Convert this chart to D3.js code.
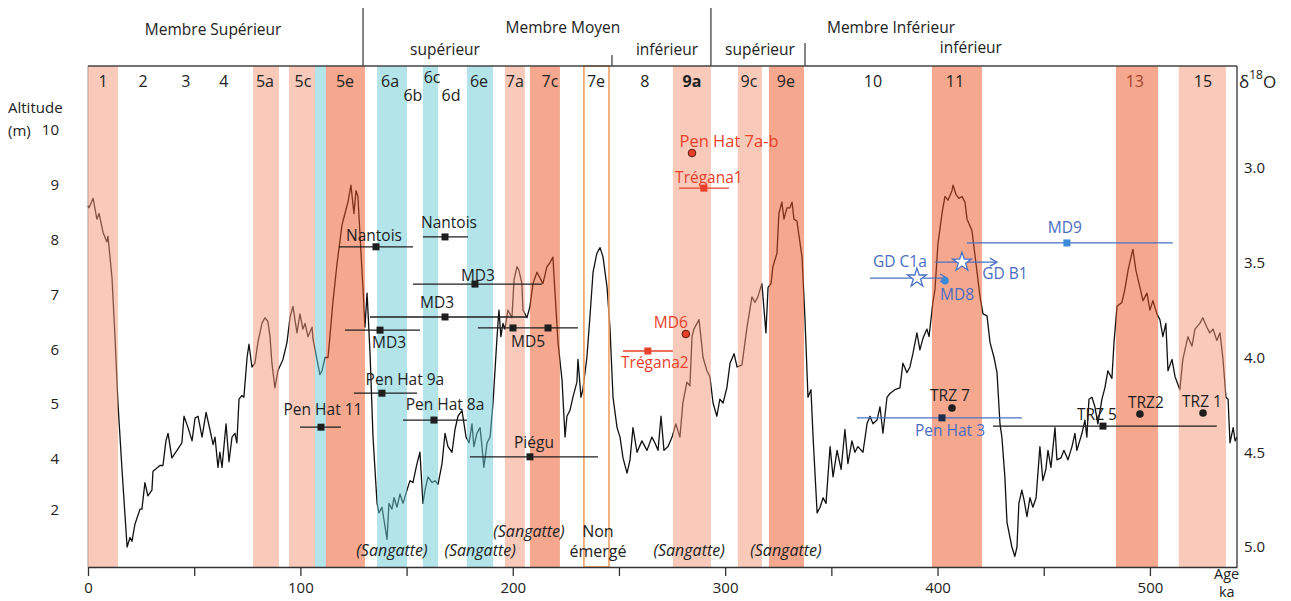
<!DOCTYPE html>
<html>
<head>
<meta charset="utf-8">
<script src="https://cdn.jsdelivr.net/npm/d3@7"></script>
<style>
  body { margin: 0; background: #fff; }
  svg { display: block; font-family: "Open Sans", sans-serif; }
</style>
</head>
<body>
<svg width="1291" height="601"></svg>
<script>

// courbe isotopique (age ka, delta 18O)
const curve_age = [0,0.5,2.4,4.2,5.2,7.1,8.9,9.4,11.3,12.7,14.1,16.0,18.4,19.8,20.7,22.1,24.5,25.4,26.8,28.2,30.1,30.6,33.9,35.3,36.7,37.7,39.5,41.9,44.2,45.2,47.1,49.0,50.4,51.8,53.7,55.6,57.4,58.9,59.8,61.2,62.1,63.1,65.0,66.4,67.8,69.2,70.1,71.1,72.5,73.4,74.9,75.8,77.2,78.6,80.0,81.9,83.3,84.7,85.7,86.6,88.0,89.4,91.8,93.7,95.1,96.5,98.4,99.8,101.2,102.2,103.6,105.5,105.9,107.8,109.2,110.2,111.6,113.0,113.9,115.3,117.2,119.6,121.0,122.4,123.8,125.2,126.2,127.1,128.1,129.5,130.4,131.4,131.8,132.8,134.2,136.1,137.0,138.4,139.4,140.8,141.7,143.1,144.1,145.5,146.9,148.3,150.2,151.6,153.0,154.9,156.3,157.7,158.7,160.1,162.0,163.4,164.8,166.7,168.1,169.5,171.4,172.8,174.2,176.1,178.0,179.4,180.8,181.7,183.1,184.6,185.5,186.4,187.9,189.3,190.7,192.6,193.5,194.4,195.4,196.3,197.7,199.6,200.6,202.0,202.9,204.3,204.8,206.7,208.1,209.5,211.4,212.8,214.2,216.1,217.5,218.9,219.9,221.3,223.2,224.6,225.5,226.9,228.3,230.2,230.7,232.1,233.0,234.9,236.3,237.8,239.6,241.1,242.5,244.4,245.8,247.2,249.1,250.5,251.9,253.8,255.2,256.6,258.5,260.8,263.2,265.5,266.9,268.4,269.8,271.2,273.1,275.0,276.8,278.7,280.1,282.0,283.4,284.4,285.3,287.7,289.6,291.4,292.8,294.3,296.1,297.5,299.0,300.8,302.3,304.2,305.6,307.9,310.3,312.6,314.0,315.4,317.3,319.2,320.2,321.6,322.5,324.4,325.3,326.7,327.7,329.1,330.5,331.5,332.4,333.8,334.8,336.2,337.6,339.0,340.4,341.4,343.3,344.7,346.1,347.5,349.4,350.8,352.7,354.6,356.4,357.8,359.7,361.1,362.5,364.9,366.8,368.2,369.6,371.5,372.9,374.3,376.2,377.6,379.9,382.3,383.7,385.6,387.0,388.4,390.3,391.7,393.1,395.0,396.0,397.8,398.8,400.2,402.1,403.5,404.9,406.8,407.3,408.7,410.1,411.5,412.9,413.9,416.2,418.5,420.0,421.4,423.3,424.7,426.6,428.0,429.4,430.3,431.7,432.7,435.0,436.4,437.4,438.3,439.7,440.7,442.1,443.5,444.9,446.4,448.2,449.6,451.0,452.0,453.4,455.3,456.2,458.1,459.5,461.4,463.3,464.7,465.6,468.0,469.4,470.3,471.3,472.7,474.1,475.5,477.4,478.8,480.2,482.1,483.1,484.5,486.8,488.2,489.7,491.5,492.0,493.4,495.3,496.7,498.6,500.0,501.4,503.3,504.7,506.1,507.5,508.5,510.4,511.8,514.1,515.5,517.9,519.8,521.2,523.5,524.9,526.8,528.2,529.7,531.5,533.0,534.4,535.8,536.8,537.7,539.2,540.1,541.0];
const curve_d18o = [3.20,3.21,3.16,3.27,3.24,3.34,3.39,3.36,3.58,3.89,4.24,4.59,5.00,4.95,4.97,4.88,4.80,4.80,4.66,4.73,4.70,4.60,4.57,4.57,4.44,4.40,4.53,4.49,4.45,4.31,4.37,4.44,4.32,4.31,4.42,4.29,4.38,4.46,4.42,4.58,4.50,4.58,4.35,4.55,4.42,4.40,4.45,4.22,4.20,4.21,4.00,3.93,4.05,4.03,3.92,3.82,3.79,3.81,3.89,4.03,4.16,4.07,4.01,3.92,3.79,3.73,3.87,3.77,3.85,3.82,3.89,3.84,3.90,4.01,4.09,4.07,4.00,4.00,3.89,3.71,3.51,3.30,3.24,3.18,3.09,3.24,3.12,3.15,3.36,3.64,3.84,3.66,3.75,3.98,4.42,4.77,4.82,4.79,4.86,4.96,4.77,4.80,4.74,4.79,4.72,4.77,4.70,4.65,4.66,4.56,4.50,4.77,4.70,4.63,4.66,4.65,4.67,4.56,4.40,4.47,4.50,4.38,4.31,4.28,4.42,4.45,4.35,4.47,4.40,4.37,4.47,4.58,4.45,4.42,4.24,3.89,3.75,3.89,3.82,3.85,3.75,3.79,3.59,3.52,3.54,3.61,3.75,3.79,3.73,3.61,3.55,3.58,3.61,3.52,3.50,3.47,3.66,3.92,4.12,4.42,4.31,4.28,4.21,4.13,4.01,4.21,4.17,4.00,3.79,3.55,3.45,3.42,3.47,3.63,3.85,4.21,4.37,4.42,4.53,4.61,4.54,4.37,4.50,4.44,4.49,4.42,4.45,4.49,4.31,4.49,4.47,4.42,4.35,4.42,4.24,4.13,4.15,3.89,3.85,3.80,4.00,4.07,4.10,4.24,4.31,4.22,4.24,4.16,4.03,3.98,4.05,4.04,3.84,3.68,3.71,3.68,3.61,3.87,3.63,3.61,3.52,3.45,3.24,3.18,3.27,3.21,3.21,3.18,3.27,3.28,3.36,3.47,3.80,4.21,4.17,4.42,4.82,4.79,4.74,4.77,4.47,4.63,4.49,4.59,4.38,4.56,4.44,4.50,4.47,4.50,4.35,4.31,4.35,4.33,4.26,4.40,4.21,4.19,4.17,4.16,4.03,4.08,4.05,3.98,3.87,3.96,3.90,3.85,3.89,3.71,3.64,3.40,3.24,3.15,3.17,3.12,3.09,3.14,3.16,3.15,3.18,3.27,3.33,3.54,3.68,3.77,3.78,3.92,4.00,4.08,4.35,4.42,4.63,4.87,5.00,5.05,5.00,4.77,4.70,4.75,4.84,4.74,4.79,4.74,4.47,4.65,4.59,4.49,4.58,4.37,4.54,4.53,4.49,4.54,4.47,4.40,4.49,4.40,4.33,4.42,4.22,4.21,4.26,4.35,4.22,4.16,4.07,4.11,3.92,3.73,3.71,3.64,3.54,3.45,3.43,3.54,3.63,3.70,3.66,3.75,3.70,3.77,3.80,3.89,3.82,4.07,4.01,4.10,4.17,4.01,3.89,3.94,3.85,3.82,3.79,3.84,3.87,3.85,3.91,3.87,4.01,4.21,4.22,4.45,4.37,4.44,4.42];

// stades isotopiques (bandes)
const band_from = [0, 77.7, 94.6, 106.9, 112.0, 136.1, 157.7, 178.4, 196.3, 208.1, 233.5, 275.4, 306.0, 320.6, 397.4, 484.0, 513.6];
const band_to   = [14.1, 89.9, 106.9, 112.0, 130.4, 150.2, 164.8, 190.7, 205.7, 222.2, 245.3, 293.3, 317.3, 337.1, 420.9, 503.8, 535.8];
const band_type = ["chaud","chaud","chaud","froid","chaud_fort","froid","froid","froid","chaud","chaud_fort","non_emerge","chaud","chaud","chaud_fort","chaud_fort","chaud_fort","chaud"];

const stage_names = ["1","2","3","4","5a","5c","5e","6a","6b","6c","6d","6e","7a","7c","7e","8","9a","9c","9e","10","11","13","15"];
const stage_ages  = [7.1, 25.9, 46.1, 64.0, 83.3, 101.2, 121.0, 142.2, 153.0, 162.0, 170.9, 184.1, 201.0, 217.5, 239.2, 262.2, 284.4, 311.2, 328.6, 369.6, 408.2, 492.9, 525.0];

// membres et sous-unites
const member_names = ["Membre Supérieur", "Membre Moyen", "Membre Inférieur"];
const member_ages  = [58.9, 223.6, 378.1];
const sub_names = ["supérieur", "inférieur", "supérieur", "inférieur"];
const sub_ages  = [168.1, 272.6, 316.4, 415.7];
const limit_ages = [129.5, 246.7, 293.3, 337.6];

// depots datés (age ka, altitude m)
const terrace_names  = ["Nantois","Nantois","MD3","MD3","MD3","MD5","Pen Hat 9a","Pen Hat 8a","Pen Hat 11","Piégu","TRZ 7","TRZ 5","TRZ2","TRZ 1","Pen Hat 3","MD9","GD B1","GD C1a","MD8","Pen Hat 7a-b","Trégana1","MD6","Trégana2"];
const terrace_alt    = [7.87, 8.05, 7.19, 6.59, 6.35, 6.39, 5.20, 4.71, 4.58, 4.04, 4.93, 4.60, 4.82, 4.84, 4.75, 7.94, 7.59, 7.30, 7.25, 9.58, 8.94, 6.28, 5.97];
const terrace_from   = [118.2, 157.7, 153.0, 132.8, 121.0, 183.6, 125.2, 148.3, 99.8, 179.8, null, 426.1, null, null, 362.0, 413.8, 398.8, 368.2, null, null, 278.2, null, 251.9];
const terrace_to     = [153.0, 178.9, 213.7, 206.7, 156.3, 230.7, 154.9, 178.4, 119.1, 240.1, null, 531.5, null, null, 439.7, 510.8, 428.0, 404.4, null, null, 301.8, null, 275.4];
const terrace_marks  = [[135.6],[168.1],[182.2],[168.1],[137.5],[200.1,216.6],[138.4],[162.9],[109.7],[208.1],[406.8],[477.9],[495.3],[525.0],[402.1],[460.9],[411.5],[390.3],[403.5],[284.4],[290.0],[281.5],[263.6]];
const terrace_group  = ["noir","noir","noir","noir","noir","noir","noir","noir","noir","noir","noir","noir","noir","noir","bleu","bleu","bleu","bleu","bleu","rouge","rouge","rouge","rouge"];
const terrace_symbol = ["carre","carre","carre","carre","carre","carre","carre","carre","carre","carre","point","carre","point","point","carre","carre","etoile","etoile","point","point","carre","point","carre"];

const sangatte_ages = [143.1, 184.6, 207.6, 283.0, 328.6];
const non_emerge_age = 240.1;

const vis = {

    sels : { svg : null, plot : null },

    dims : { left : 88, right : 1237, top : 66, bottom : 567 },

    scales : { x : null, d18o : null, alt : null },

    params : {

        band_fill : { chaud : "#f39575", chaud_fort : "#eb511d", froid : "#65c9d5" },
        group_color : { noir : "#1e1e1e", bleu : "#4a70c6", rouge : "#e8402a" },
        group_text : { noir : "#1e1e1e", bleu : "#4a6cc4", rouge : "#e8402a" },
        // decalage des etiquettes (px) par rapport au premier marqueur
        label_offset : [[-2,-11],[4,-14],[3,-9],[-8,-14],[9,12],[15,14],[23,-14],[11,-15],[2,-18],[4,-14],
                        [-2,-12],[-6,-12],[6,-11],[-1,-11],[8,13],[-2,-15],[43,11],[-17,-16],[12,14],[37,-12],
                        [5,-11],[-15,-11],[7,12]],
        low_stages : ["6b","6d"],
        high_stages : ["6c"]

    },

    render : {

        scales : function() {

            const d = vis.dims;
            vis.scales.x = d3.scaleLinear().domain([0, 541]).range([d.left, d.right]);
            vis.scales.d18o = d3.scaleLinear().domain([3, 5]).range([168, 547]);
            vis.scales.alt = d3.scaleLinear().domain([2, 4, 10]).range([510, 459, 130]);

        },

        header : function() {

            const svg = vis.sels.svg, x = vis.scales.x;
            const tops = [8, 55, 8, 43];

            svg.selectAll("line.limite")
              .data(limit_ages)
              .join("line")
              .attr("x1", d => x(d)).attr("x2", d => x(d))
              .attr("y1", (d,i) => tops[i]).attr("y2", vis.dims.top)
              .attr("stroke", "#333").attr("stroke-width", 1.2);

            svg.selectAll("text.membre")
              .data(member_names)
              .join("text")
              .attr("x", (d,i) => x(member_ages[i]))
              .attr("y", (d,i) => i == 0 ? 35 : 33)
              .attr("text-anchor", "middle")
              .attr("font-size", 15.5).attr("fill", "#222")
              .text(d => d);

            svg.selectAll("text.sous")
              .data(sub_names)
              .join("text")
              .attr("x", (d,i) => x(sub_ages[i]))
              .attr("y", (d,i) => i == 3 ? 53 : 55)
              .attr("text-anchor", "middle")
              .attr("font-size", 15.5).attr("fill", "#222")
              .text(d => d);

        },

        axes : function() {

            const svg = vis.sels.svg, d = vis.dims;

            const gx = svg.append("g")
              .attr("transform", `translate(0,${d.bottom})`)
              .call(d3.axisBottom(vis.scales.x)
                .tickValues(d3.range(0, 501, 50))
                .tickFormat(v => v % 100 == 0 ? v : "")
                .tickSize(9).tickSizeOuter(0).tickPadding(6));

            const gl = svg.append("g")
              .attr("transform", "translate(59,0)")
              .call(d3.axisLeft(vis.scales.alt)
                .tickValues([2,4,5,6,7,8,9,10])
                .tickSize(0).tickPadding(0));
            gl.select(".domain").remove();

            const gr = svg.append("g")
              .attr("transform", `translate(${d.right},0)`)
              .call(d3.axisRight(vis.scales.d18o)
                .tickValues([3, 3.5, 4, 4.5, 5])
                .tickFormat(d3.format(".1f"))
                .tickSize(0).tickPadding(7));
            gr.select(".domain").remove();

            [gx, gl, gr].forEach(g => {
                g.attr("font-family", null).attr("font-size", 15);
                g.selectAll("text").attr("fill", "#222");
                g.selectAll("line, path").attr("stroke", "#333").attr("stroke-width", 1.3);
            });

            // cadre
            svg.append("line").attr("x1", d.left).attr("x2", d.right).attr("y1", d.top).attr("y2", d.top)
              .attr("stroke", "#444").attr("stroke-width", 1.5);
            svg.append("line").attr("x1", d.right).attr("x2", d.right).attr("y1", d.top).attr("y2", d.bottom)
              .attr("stroke", "#333").attr("stroke-width", 1.3);

            svg.append("text").attr("x", 8).attr("y", 113).attr("font-size", 15).attr("fill", "#222").text("Altitude");
            svg.append("text").attr("x", 8).attr("y", 136).attr("font-size", 15).attr("fill", "#222").text("(m)");

            svg.append("text").attr("x", 1214).attr("y", 579).attr("font-size", 14.5).attr("fill", "#222").text("Age");
            svg.append("text").attr("x", 1219).attr("y", 597).attr("font-size", 14.5).attr("fill", "#222").text("ka");

            const t = svg.append("text").attr("x", 1239).attr("y", 88).attr("font-size", 17).attr("fill", "#222");
            t.append("tspan").text("δ");
            t.append("tspan").attr("font-size", 12).attr("dy", -9).text("18");
            t.append("tspan").attr("dy", 9).text("O");

        },

        curve : function() {

            const pts = curve_age.map((a,i) => [a, curve_d18o[i]]);
            const line = d3.line()
              .x(p => vis.scales.x(p[0]))
              .y(p => vis.scales.d18o(p[1]));

            vis.sels.plot.append("line")
              .attr("x1", vis.dims.left).attr("x2", vis.dims.left)
              .attr("y1", vis.dims.top).attr("y2", vis.dims.bottom)
              .attr("stroke", "#999").attr("stroke-width", 1);

            vis.sels.plot.append("path")
              .datum(pts)
              .attr("d", line)
              .attr("fill", "none")
              .attr("stroke", "#111")
              .attr("stroke-width", 1.3)
              .attr("stroke-linejoin", "round");

        },

        terraces : function() {

            const x = vis.scales.x, y = vis.scales.alt, p = vis.params;
            const g = vis.sels.plot.append("g");

            terrace_names.forEach((name, i) => {

                const col = p.group_color[terrace_group[i]];
                const yy = y(terrace_alt[i]);
                const sym = terrace_symbol[i];

                if (terrace_from[i] != null) {
                    g.append("line")
                      .attr("x1", x(terrace_from[i])).attr("x2", x(terrace_to[i]))
                      .attr("y1", yy).attr("y2", yy)
                      .attr("stroke", col).attr("stroke-width", 1.3);
                    if (sym == "etoile") {
                        const xe = x(terrace_to[i]);
                        g.append("path")
                          .attr("d", `M${xe-7},${yy-4}L${xe},${yy}L${xe-7},${yy+4}`)
                          .attr("fill", "none").attr("stroke", col).attr("stroke-width", 1.3);
                    }
                }

                terrace_marks[i].forEach(m => {
                    const xm = x(m);
                    if (sym == "carre") {
                        let fill = col;
                        if (name == "MD9") fill = "#3a8ad8";
                        if (name == "Pen Hat 3") fill = "#1d2c4d";
                        g.append("rect")
                          .attr("x", xm - 3.5).attr("y", yy - 3.5)
                          .attr("width", 7).attr("height", 7)
                          .attr("fill", fill);
                    } else if (sym == "point") {
                        let fill = col, stroke = "none";
                        if (terrace_group[i] == "rouge") { fill = "#e8402a"; stroke = "#5a1a10"; }
                        if (name == "MD8") fill = "#3a8ad8";
                        g.append("circle")
                          .attr("cx", xm).attr("cy", yy).attr("r", 3.8)
                          .attr("fill", fill).attr("stroke", stroke).attr("stroke-width", 1);
                    } else if (sym == "etoile") {
                        g.append("path")
                          .attr("d", d3.symbol(d3.symbolStar).size(110)())
                          .attr("transform", `translate(${xm},${yy})`)
                          .attr("fill", "#fff").attr("stroke", col).attr("stroke-width", 1.3);
                    }
                });

                const off = p.label_offset[i];
                g.append("text")
                  .attr("x", x(terrace_marks[i][0]) + off[0])
                  .attr("y", yy + off[1])
                  .attr("dy", "0.35em")
                  .attr("text-anchor", "middle")
                  .attr("font-size", name == "Pen Hat 7a-b" ? 16.5 : 15.5)
                  .attr("fill", p.group_text[terrace_group[i]])
                  .text(name);

            });

        },

        bands : function() {

            const x = vis.scales.x, d = vis.dims;
            const data = band_from.map((f,i) => ({ from : f, to : band_to[i], type : band_type[i] }));

            vis.sels.plot.selectAll("rect.bande")
              .data(data.filter(b => b.type != "non_emerge"))
              .join("rect")
              .classed("bande", true)
              .attr("x", b => x(b.from))
              .attr("width", b => x(b.to) - x(b.from))
              .attr("y", d.top)
              .attr("height", d.bottom - d.top)
              .attr("fill", b => vis.params.band_fill[b.type])
              .attr("opacity", 0.5);

            vis.sels.plot.selectAll("rect.non-emerge")
              .data(data.filter(b => b.type == "non_emerge"))
              .join("rect")
              .classed("non-emerge", true)
              .attr("x", b => x(b.from))
              .attr("width", b => x(b.to) - x(b.from))
              .attr("y", d.top)
              .attr("height", d.bottom - d.top)
              .attr("fill", "none")
              .attr("stroke", "#f2a060")
              .attr("stroke-width", 1.6);

        },

        labels : function() {

            const x = vis.scales.x, p = vis.params;

            vis.sels.svg.selectAll("text.stade")
              .data(stage_names)
              .join("text")
              .classed("stade", true)
              .attr("x", (d,i) => x(stage_ages[i]))
              .attr("y", d => p.low_stages.includes(d) ? 101 : (p.high_stages.includes(d) ? 83 : 87))
              .attr("text-anchor", "middle")
              .attr("font-size", 16)
              .attr("font-weight", d => d == "9a" ? "bold" : null)
              .attr("fill", d => d == "13" ? "#a3452c" : "#222")
              .text(d => d);

            vis.sels.svg.selectAll("text.sangatte")
              .data(sangatte_ages)
              .join("text")
              .classed("sangatte", true)
              .attr("x", d => x(d))
              .attr("y", (d,i) => i == 2 ? 537 : 556)
              .attr("text-anchor", "middle")
              .attr("font-size", 16)
              .attr("font-style", "italic")
              .attr("fill", "#222")
              .text("(Sangatte)");

            ["Non", "émergé"].forEach((w, i) => {
                vis.sels.svg.append("text")
                  .attr("x", x(non_emerge_age))
                  .attr("y", 537 + i * 20)
                  .attr("text-anchor", "middle")
                  .attr("font-size", 16)
                  .attr("fill", "#222")
                  .text(w);
            });

        }

    },

    control : {

        init : function() {

            vis.sels.svg = d3.select("svg");
            vis.render.scales();
            vis.sels.plot = vis.sels.svg.append("g");
            // la courbe passe sous les bandes, les depots au-dessus
            vis.render.curve();
            vis.render.bands();
            vis.render.terraces();
            vis.render.header();
            vis.render.axes();
            vis.render.labels();

        }

    }

}

vis.control.init();
</script>
</body>
</html>
